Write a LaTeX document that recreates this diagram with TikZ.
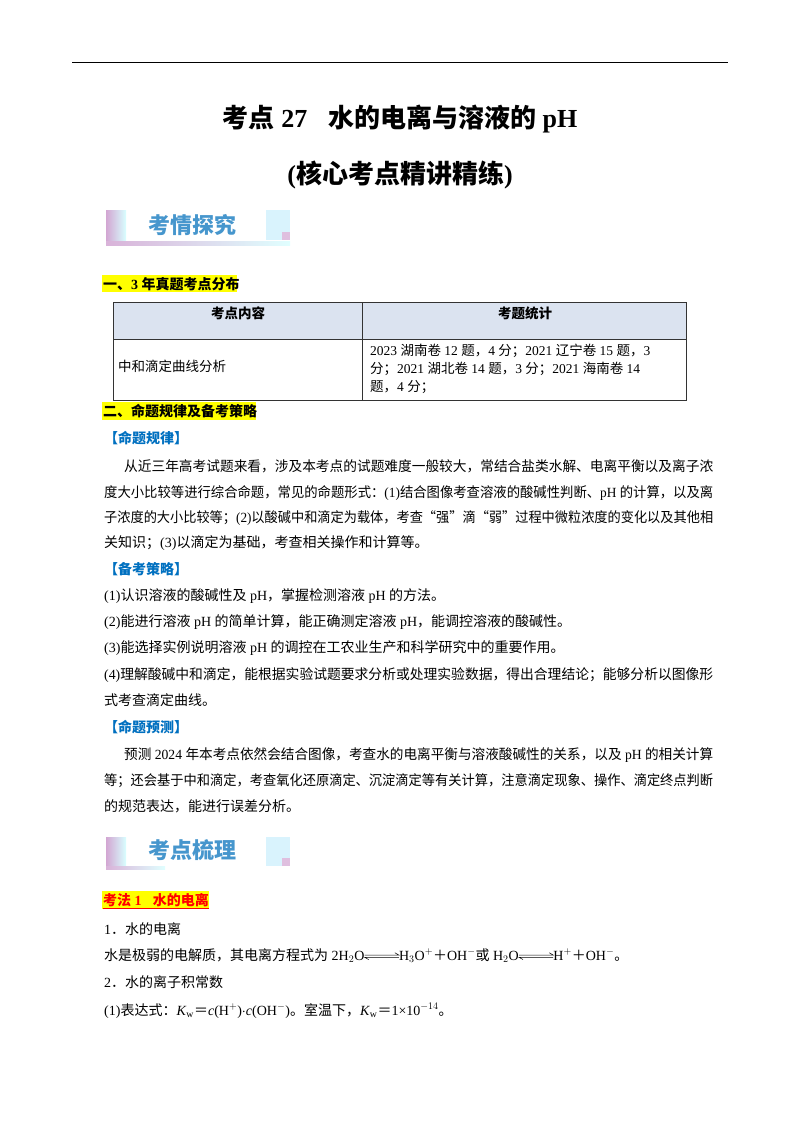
\documentclass[tikz,border=0pt]{standalone}
\usepackage{fontspec}
\usepackage{graphicx}
\setmainfont{Liberation Serif}
\newfontfamily\cjk{Noto Sans CJK SC}
\XeTeXinterchartokenstate=1
\newXeTeXintercharclass\cjkclass
\count255="4E00 \loop\XeTeXcharclass\count255=\cjkclass\advance\count255 1\ifnum\count255<"9FFF\repeat
\count255="3000 \loop\XeTeXcharclass\count255=\cjkclass\advance\count255 1\ifnum\count255<"3040\repeat
\count255="FF00 \loop\XeTeXcharclass\count255=\cjkclass\advance\count255 1\ifnum\count255<"FFF0\repeat
\XeTeXcharclass"201C=\cjkclass \XeTeXcharclass"201D=\cjkclass
\XeTeXinterchartoks 0 \cjkclass = {\cjk}
\XeTeXinterchartoks 4095 \cjkclass = {\cjk}
\XeTeXinterchartoks \cjkclass 0 = {\rmfamily}
\XeTeXinterchartoks \cjkclass 4095 = {\rmfamily}
\definecolor{hl}{RGB}{255,255,0}
\definecolor{hdr}{RGB}{219,227,240}
\definecolor{blu}{RGB}{0,112,192}
\definecolor{bann}{RGB}{70,150,205}
\tikzset{t/.style={anchor=base west,inner sep=0pt,font=\fontsize{14}{17}\selectfont},
 hlbox/.style={fill=hl,draw=none}}
\newcommand\fitw[2]{\resizebox{#1pt}{\height}{#2}}
\newcommand\eqarr{\tikz[x=1cm,y=1cm,baseline=-0.6ex]{\draw[line width=0.5pt] (0,0.04)--(1.2,0.04) -- ++(-0.14,0.08);\draw[line width=0.5pt] (1.2,-0.04)--(0,-0.04) -- ++(0.14,-0.08);}}
\begin{document}
\begin{tikzpicture}[x=1pt,y=-1pt]
\useasboundingbox[fill=white] (0,0) rectangle (800,1132);
\draw[line width=1pt] (72,63) -- (728,63);
\node[anchor=base,font=\bfseries\fontsize{26}{30}\selectfont] (title) at (400,127) {考点 27\hspace{0.8em}水的电离与溶液的 pH};
\node[anchor=base,font=\bfseries\fontsize{26}{30}\selectfont] (sub) at (400,183) {(核心考点精讲精练)};
% banner 1
\shade[left color=violet!35,right color=cyan!15] (106,210) rectangle (126,240);
\fill[cyan!15] (266,210) rectangle (290,240);
\fill[violet!25] (282,232) rectangle (290,240);
\shade[left color=violet!30,right color=cyan!12] (106,241) rectangle (290,245);
\node[anchor=base west,font=\bfseries\fontsize{22}{24}\selectfont,text=bann,inner sep=0] (b1) at (148,233) {考情探究};
% section 1
\fill[hl] (102,275) rectangle (237,292);
\node[t,font=\bfseries\fontsize{14}{17}\selectfont] (s1) at (103,289) {一、3 年真题考点分布};
\fill[hdr] (113,302) rectangle (686,339);
\draw[line width=0.8pt,black!80] (113,302) rectangle (686,400) (113,339)--(686,339) (362,302)--(362,400);
\node[t,anchor=base,font=\bfseries\fontsize{13.5}{16}\selectfont] (h1) at (238,318) {考点内容};
\node[t,anchor=base,font=\bfseries\fontsize{13.5}{16}\selectfont] (h2) at (525,318) {考题统计};
\node[t,font=\fontsize{13.5}{16}\selectfont] (c1) at (118,371) {中和滴定曲线分析};
\node[t,font=\fontsize{13.5}{16}\selectfont] (c2) at (370,355) {2023 湖南卷 12 题，4 分；2021 辽宁卷 15 题，3};
\node[t,font=\fontsize{13.5}{16}\selectfont] (c3) at (370,373) {分；2021 湖北卷 14 题，3 分；2021 海南卷 14};
\node[t,font=\fontsize{13.5}{16}\selectfont] (c4) at (370,391) {题，4 分；};
\fill[hl] (102,402) rectangle (256,420);
\node[t,font=\bfseries\fontsize{14}{17}\selectfont] (s2) at (103,416) {二、命题规律及备考策略};
\node[t,font=\bfseries\fontsize{14}{17}\selectfont,text=blu] (g1) at (104,443) {【命题规律】};
\node[t] (p1) at (124,471) {\fitw{589}{从近三年高考试题来看，涉及本考点的试题难度一般较大，常结合盐类水解、电离平衡以及离子浓}};
\node[t] (p2) at (104,497) {\fitw{609}{度大小比较等进行综合命题，常见的命题形式：(1)结合图像考查溶液的酸碱性判断、pH 的计算，以及离}};
\node[t] (p3) at (104,522) {\fitw{609}{子浓度的大小比较等；(2)以酸碱中和滴定为载体，考查“强”滴“弱”过程中微粒浓度的变化以及其他相}};
\node[t] (p4) at (104,547) {关知识；(3)以滴定为基础，考查相关操作和计算等。};
\node[t,font=\bfseries\fontsize{14}{17}\selectfont,text=blu] (g2) at (104,574) {【备考策略】};
\node[t] (q1) at (104,600) {(1)认识溶液的酸碱性及 pH，掌握检测溶液 pH 的方法。};
\node[t] (q2) at (104,626) {(2)能进行溶液 pH 的简单计算，能正确测定溶液 pH，能调控溶液的酸碱性。};
\node[t] (q3) at (104,652) {(3)能选择实例说明溶液 pH 的调控在工农业生产和科学研究中的重要作用。};
\node[t] (q4) at (104,679) {\fitw{609}{(4)理解酸碱中和滴定，能根据实验试题要求分析或处理实验数据，得出合理结论；能够分析以图像形}};
\node[t] (q5) at (104,705) {式考查滴定曲线。};
\node[t,font=\bfseries\fontsize{14}{17}\selectfont,text=blu] (g3) at (104,732) {【命题预测】};
\node[t] (r1) at (124,759) {\fitw{589}{预测 2024 年本考点依然会结合图像，考查水的电离平衡与溶液酸碱性的关系，以及 pH 的相关计算}};
\node[t] (r2) at (104,785) {\fitw{609}{等；还会基于中和滴定，考查氧化还原滴定、沉淀滴定等有关计算，注意滴定现象、操作、滴定终点判断}};
\node[t] (r3) at (104,811) {的规范表达，能进行误差分析。};
% banner 2
\shade[left color=violet!35,right color=cyan!15] (106,837) rectangle (126,866);
\fill[cyan!15] (266,837) rectangle (290,866);
\fill[violet!25] (282,858) rectangle (290,866);
\shade[left color=violet!30,right color=cyan!12] (106,866) rectangle (165,869);
\node[anchor=base west,font=\bfseries\fontsize{22}{24}\selectfont,text=bann,inner sep=0] (b2) at (148,858) {考点梳理};
\fill[hl] (102,891) rectangle (209,909);
\node[t,font=\bfseries\fontsize{14}{17}\selectfont,text=red] (k1) at (103,905) {\underline{考法 1\hspace{0.8em}水的电离}};
\node[t] (e1) at (104,934) {1．水的电离};
\node[t] (e2) at (104,960) {水是极弱的电解质，其电离方程式为 \rmfamily 2H$_2$O\eqarr H$_3$O$^+$＋\rmfamily OH$^-$或 \rmfamily H$_2$O\eqarr H$^+$＋\rmfamily OH$^-$。};
\node[t] (e3) at (104,987) {2．水的离子积常数};
\node[t] (e4) at (104,1015) {(1)表达式：\rmfamily\textit{K}$_{\mathrm w}$＝\rmfamily\textit{c}(H$^+$)$\cdot$\textit{c}(OH$^-$)。室温下，\rmfamily\textit{K}$_{\mathrm w}$＝\rmfamily 1×10$^{-14}$。};
\end{tikzpicture}
\end{document}
